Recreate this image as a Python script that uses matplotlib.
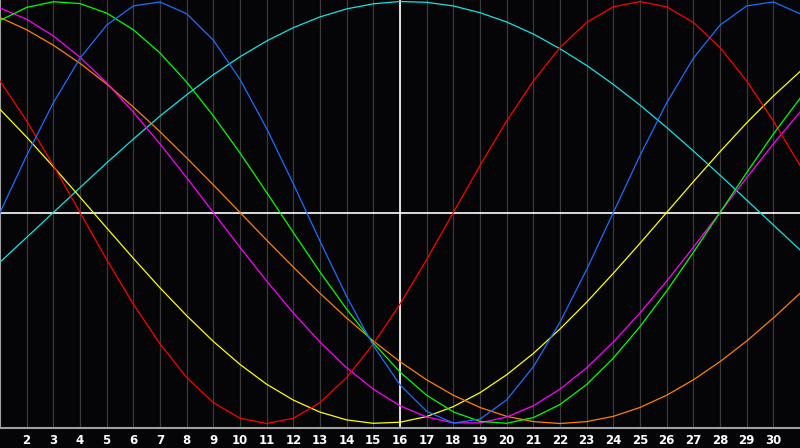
import matplotlib
matplotlib.use("Agg")
import matplotlib.pyplot as plt

# days of the month shown (1 .. 31), labels only for 2 .. 30
days = list(range(1, 32))
tick_days = list(range(2, 31))

# cycle values, one per day
physical = [0.000, 0.270, 0.520, 0.731, 0.888, 0.979, 0.998, 0.942, 0.817, 0.631,
            0.398, 0.136, -0.136, -0.398, -0.631, -0.817, -0.942, -0.998, -0.979, -0.888,
            -0.731, -0.520, -0.270, 0.000, 0.270, 0.520, 0.731, 0.888, 0.979, 0.998, 0.942]
intellectual = [0.910, 0.972, 0.999, 0.990, 0.945, 0.866, 0.756, 0.618, 0.458, 0.282,
                0.095, -0.095, -0.282, -0.458, -0.618, -0.756, -0.866, -0.945, -0.990, -0.999,
                -0.972, -0.910, -0.815, -0.690, -0.541, -0.372, -0.189, 0.000, 0.189, 0.372, 0.541]
emotional = [0.623, 0.434, 0.223, 0.000, -0.223, -0.434, -0.623, -0.782, -0.901, -0.975,
             -1.000, -0.975, -0.901, -0.782, -0.623, -0.434, -0.223, 0.000, 0.223, 0.434,
             0.623, 0.782, 0.901, 0.975, 1.000, 0.975, 0.901, 0.782, 0.623, 0.434, 0.223]
spiritual = [-0.235, -0.118, 0.000, 0.118, 0.235, 0.348, 0.457, 0.558, 0.653, 0.738,
             0.813, 0.876, 0.927, 0.965, 0.989, 1.000, 0.996, 0.979, 0.947, 0.903,
             0.846, 0.776, 0.697, 0.607, 0.509, 0.403, 0.292, 0.177, 0.059, -0.059, -0.177]
aesthetic = [0.489, 0.357, 0.217, 0.073, -0.073, -0.217, -0.357, -0.489, -0.611, -0.720,
             -0.814, -0.889, -0.946, -0.983, -0.999, -0.994, -0.967, -0.920, -0.854, -0.769,
             -0.668, -0.552, -0.425, -0.288, -0.146, 0.000, 0.146, 0.288, 0.425, 0.552, 0.668]
intuitive = [0.969, 0.916, 0.837, 0.736, 0.614, 0.476, 0.325, 0.165, 0.000, -0.165,
             -0.325, -0.476, -0.614, -0.736, -0.837, -0.916, -0.969, -0.997, -0.997, -0.969,
             -0.916, -0.837, -0.736, -0.614, -0.476, -0.325, -0.165, 0.000, 0.165, 0.325, 0.476]
awareness = [0.924, 0.866, 0.793, 0.707, 0.609, 0.500, 0.383, 0.259, 0.131, 0.000,
             -0.131, -0.259, -0.383, -0.500, -0.609, -0.707, -0.793, -0.866, -0.924, -0.966,
             -0.991, -1.000, -0.991, -0.966, -0.924, -0.866, -0.793, -0.707, -0.609, -0.500, -0.383]

series = [
    (spiritual, "#10e4e4"),
    (aesthetic, "#ffff00"),
    (awareness, "#ff8000"),
    (intuitive, "#ff00ff"),
    (emotional, "#ff0000"),
    (intellectual, "#00ff00"),
    (physical, "#1a6eff"),
]

fig = plt.figure(figsize=(8, 4.48), dpi=100)
fig.patch.set_facecolor("#050508")
ax = fig.add_axes([0, 20 / 448, 1, 428 / 448])
ax.set_facecolor("#050508")

ax.set_xlim(1, 31)
ax.set_ylim(-1.0213, 1.0071)

# day grid
for d in tick_days:
    ax.axvline(d, color="#3a3a3a", lw=0.9, zorder=1)
ax.axvline(16, color="white", lw=1.2, zorder=2)
ax.axhline(0, color="white", lw=1.2, zorder=2)

for values, color in series:
    ax.plot(days, values, color=color, lw=0.9, zorder=3)

ax.set_xticks(tick_days)
ax.set_xticklabels([str(d) for d in tick_days], color="white",
                   fontsize=8.5, fontweight="bold", family="DejaVu Sans")
ax.tick_params(axis="x", length=0, pad=4)
ax.set_yticks([])

for side in ["top", "right"]:
    ax.spines[side].set_visible(False)
for side in ["left", "bottom"]:
    ax.spines[side].set_color("#a0a0a0")
    ax.spines[side].set_linewidth(1.5)

fig.savefig("out.png", dpi=100, facecolor=fig.get_facecolor())
